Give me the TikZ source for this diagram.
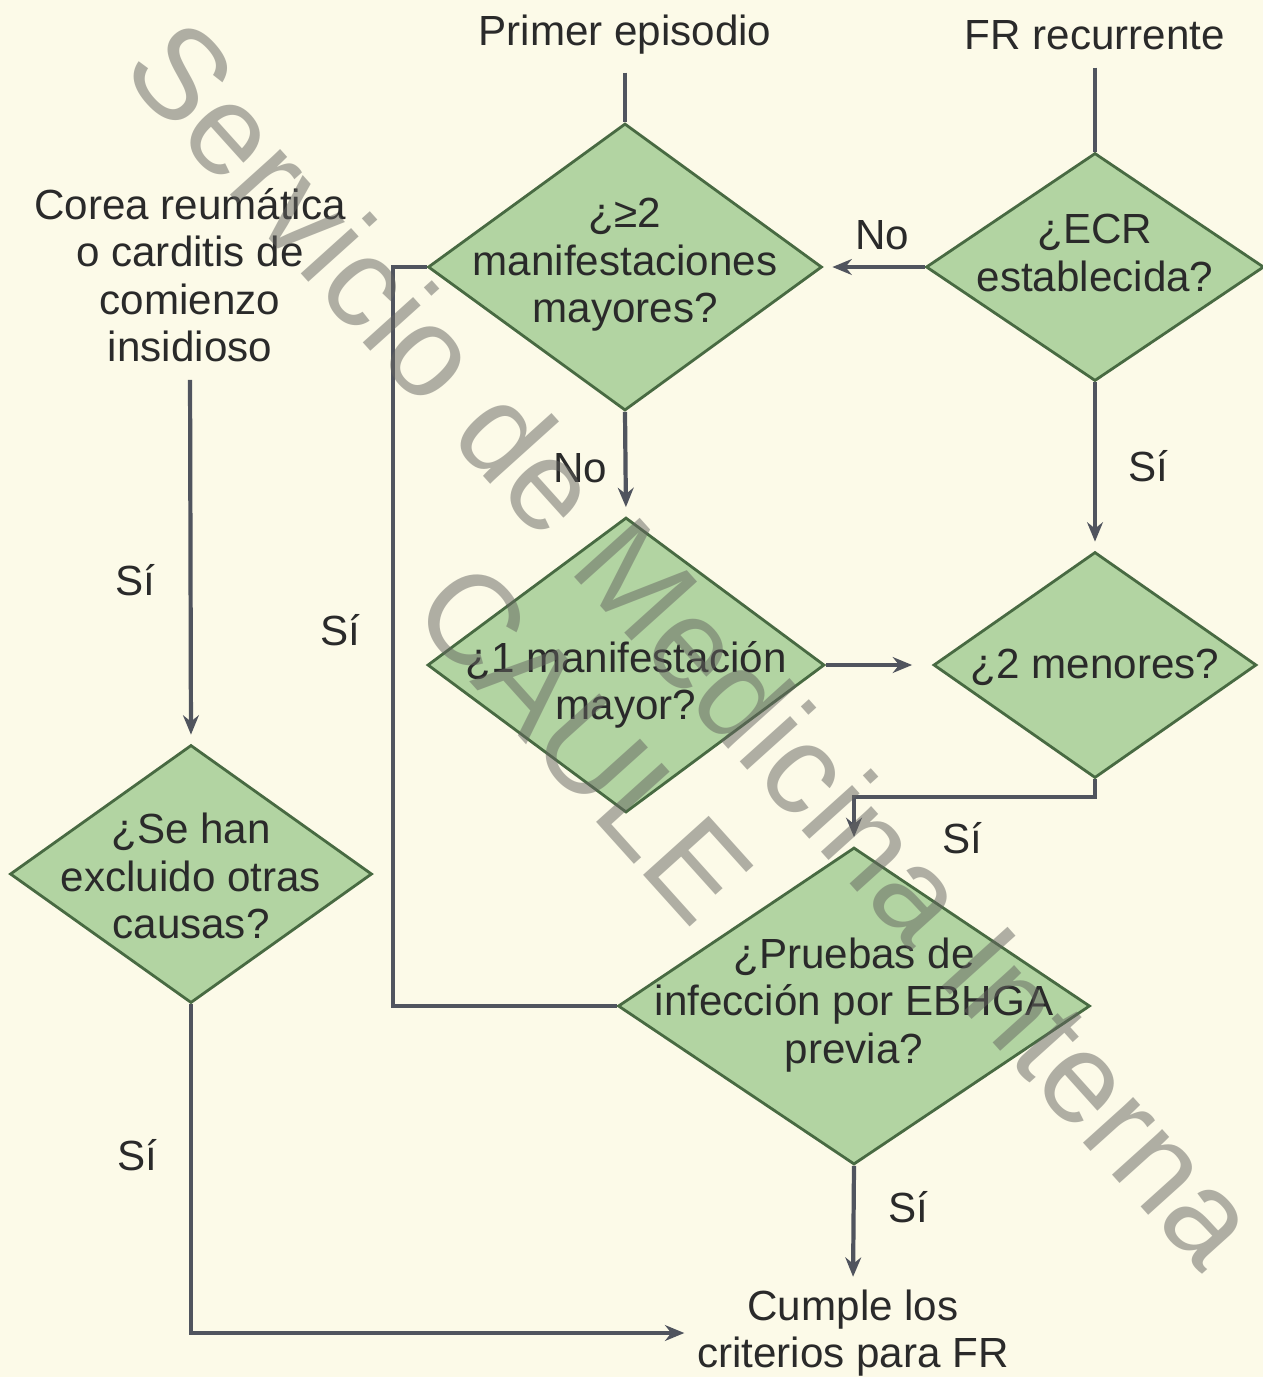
\documentclass[tikz,border=0pt]{standalone}
\usepackage{fontspec}
\setmainfont{Liberation Sans}
\newfontfamily\wmfont{Liberation Sans}
\usetikzlibrary{shapes.geometric, arrows.meta}
\newcommand{\unitsize}{0.02cm}
\definecolor{fondo}{RGB}{252,250,232}
\definecolor{verde}{RGB}{178,212,162}
\definecolor{verdeosc}{RGB}{72,106,66}
\definecolor{linea}{RGB}{80,84,94}
\definecolor{texto}{RGB}{42,42,42}
\definecolor{marcagris}{RGB}{100,100,96}

\begin{document}
\begin{tikzpicture}
\fill[fondo] (0,0) rectangle (1263*\unitsize,-1377*\unitsize);
\useasboundingbox (0,0) rectangle (1263*\unitsize,-1377*\unitsize);
\tikzstyle{every node}=[text=texto,
			font=\fontsize{24pt}{27pt}\selectfont,
			align=center,
			inner sep=2pt
			]
\tikzstyle{decision}=[draw=verdeosc, fill=verde, diamond, line width=1.6pt, inner sep=0pt]
\tikzstyle{conn}=[draw=linea, line width=2.4pt]
\tikzstyle{arr}=[conn, -{Stealth[length=11pt,width=9pt]}, shorten >=9*\unitsize]


\node (primer) at (625*\unitsize,-35*\unitsize) {Primer episodio};
\node (recurrente) at (1095*\unitsize,-35*\unitsize) {FR recurrente};
\node (corea) at (190*\unitsize,-275*\unitsize) {Corea reumática\\o carditis de\\comienzo\\insidioso};
\node (cumple) at (853*\unitsize,-1333*\unitsize) {Cumple los\\criterios para FR};


\node[decision, minimum width=394*\unitsize, minimum height=287*\unitsize] (d1) at (625*\unitsize,-267*\unitsize) {};
\node (d1txt) at (625*\unitsize,-265*\unitsize) {¿≥2\\manifestaciones\\mayores?};

\node[decision, minimum width=338*\unitsize, minimum height=228*\unitsize] (d2) at (1095*\unitsize,-267*\unitsize) {};
\node (d2txt) at (1095*\unitsize,-253*\unitsize) {¿ECR\\establecida?};

\node[decision, minimum width=397*\unitsize, minimum height=295*\unitsize] (d3) at (626*\unitsize,-665*\unitsize) {};
\node (d3txt) at (626*\unitsize,-685*\unitsize) {¿1 manifestación\\mayor?};

\node[decision, minimum width=323*\unitsize, minimum height=226*\unitsize] (d4) at (1095*\unitsize,-665*\unitsize) {};
\node (d4txt) at (1095*\unitsize,-667*\unitsize) {¿2 menores?};

\node[decision, minimum width=472*\unitsize, minimum height=317*\unitsize] (d5) at (854*\unitsize,-1006*\unitsize) {};
\node (d5txt) at (854*\unitsize,-1005*\unitsize) {¿Pruebas de\\infección por EBHGA\\previa?};

\node[decision, minimum width=362*\unitsize, minimum height=258*\unitsize] (d6) at (191*\unitsize,-874*\unitsize) {};
\node (d6txt) at (191*\unitsize,-876*\unitsize) {¿Se han\\excluido otras\\causas?};


\coordinate (codo) at (1095*\unitsize,-797*\unitsize);
\coordinate (lazo) at (393*\unitsize,-267*\unitsize);

\draw[conn, shorten <=14*\unitsize] (primer.south) -- (d1.north);
\draw[conn, shorten <=14*\unitsize] (recurrente.south) -- (d2.north);
\draw[arr] (d2.west) -- (d1.east);
\draw[arr] (d1.south) -- (d3.north);
\draw[arr, shorten >=20*\unitsize] (d3.east) -- (d4.west);
\draw[arr] (d2.south) -- (d4.north);
\draw[arr] (d4.south) -- (codo) -| (d5.north);
\draw[conn] (d1.west) -- (lazo) |- (d5.west);
\draw[arr, shorten <=14*\unitsize] (corea.south) -- (d6.north);
\draw[arr] (d5.south) -- (cumple.north);
\draw[arr] (d6.south) |- (cumple.west);


\node (no1) at (882*\unitsize,-235*\unitsize) {No};
\node (no2) at (580*\unitsize,-468*\unitsize) {No};
\node (si1) at (1148*\unitsize,-466*\unitsize) {Sí};
\node (si2) at (962*\unitsize,-838*\unitsize) {Sí};
\node (si3) at (340*\unitsize,-630*\unitsize) {Sí};
\node (si4) at (135*\unitsize,-580*\unitsize) {Sí};
\node (si5) at (908*\unitsize,-1207*\unitsize) {Sí};
\node (si6) at (137*\unitsize,-1155*\unitsize) {Sí};


\node[text=marcagris, text opacity=0.5, rotate=-48,
      font=\wmfont\fontsize{73pt}{84pt}\selectfont] (marca) at (640*\unitsize,-692*\unitsize)
      {Servicio de Medicina Interna\\CAULE};

\end{tikzpicture}
\end{document}
